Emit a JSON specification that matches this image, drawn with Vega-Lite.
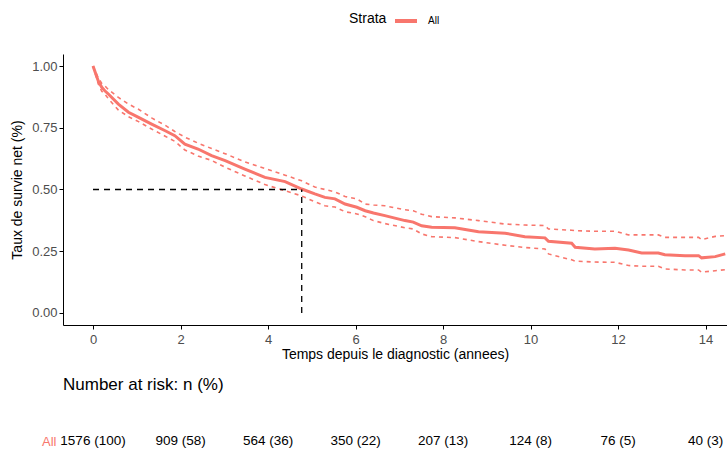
{
  "$schema": "https://vega.github.io/schema/vega-lite/v6.json",
  "background": "white",
  "padding": {"left": 10, "top": 8, "right": 0, "bottom": 0},
  "config": {
    "view": {"stroke": null},
    "font": "Liberation Sans",
    "axis": {"grid": false, "domainColor": "black", "tickColor": "black", "labelColor": "#4D4D4D", "labelFontSize": 13, "titleFontSize": 14, "titleFontWeight": "normal", "titleColor": "black", "tickSize": 4, "labelFont": "Liberation Sans", "titleFont": "Liberation Sans"},
    "legend": {"labelFont": "Liberation Sans", "titleFont": "Liberation Sans"},
    "title": {"font": "Liberation Sans"}
  },
  "datasets": {
    "curve": [
      {"t": 0, "est": 1.0, "upper": 1.0, "lower": 1.0},
      {"t": 0.12, "est": 0.94, "upper": 0.952, "lower": 0.928},
      {"t": 0.2, "est": 0.914, "upper": 0.93, "lower": 0.898},
      {"t": 0.27, "est": 0.9, "upper": 0.92, "lower": 0.887},
      {"t": 0.35, "est": 0.887, "upper": 0.905, "lower": 0.868},
      {"t": 0.58, "est": 0.846, "upper": 0.873, "lower": 0.822},
      {"t": 0.81, "est": 0.813, "upper": 0.846, "lower": 0.795},
      {"t": 1.04, "est": 0.792, "upper": 0.825, "lower": 0.775},
      {"t": 1.34, "est": 0.765, "upper": 0.79, "lower": 0.745},
      {"t": 1.65, "est": 0.738, "upper": 0.76, "lower": 0.716},
      {"t": 1.87, "est": 0.718, "upper": 0.735, "lower": 0.695},
      {"t": 2.1, "est": 0.684, "upper": 0.712, "lower": 0.66},
      {"t": 2.4, "est": 0.664, "upper": 0.688, "lower": 0.636},
      {"t": 2.71, "est": 0.637, "upper": 0.666, "lower": 0.618},
      {"t": 3.02, "est": 0.617, "upper": 0.645, "lower": 0.59},
      {"t": 3.47, "est": 0.583, "upper": 0.612, "lower": 0.555},
      {"t": 3.93, "est": 0.549, "upper": 0.585, "lower": 0.52},
      {"t": 4.39, "est": 0.532, "upper": 0.558, "lower": 0.495},
      {"t": 4.77, "est": 0.502, "upper": 0.535, "lower": 0.474},
      {"t": 5.07, "est": 0.482, "upper": 0.51, "lower": 0.45},
      {"t": 5.3, "est": 0.468, "upper": 0.5, "lower": 0.434},
      {"t": 5.53, "est": 0.462, "upper": 0.49, "lower": 0.429},
      {"t": 5.76, "est": 0.441, "upper": 0.472, "lower": 0.41},
      {"t": 6.03, "est": 0.428, "upper": 0.462, "lower": 0.401},
      {"t": 6.22, "est": 0.414, "upper": 0.441, "lower": 0.39},
      {"t": 6.41, "est": 0.405, "upper": 0.437, "lower": 0.374},
      {"t": 6.67, "est": 0.394, "upper": 0.434, "lower": 0.362},
      {"t": 7.13, "est": 0.374, "upper": 0.418, "lower": 0.345},
      {"t": 7.32, "est": 0.368, "upper": 0.414, "lower": 0.34},
      {"t": 7.51, "est": 0.353, "upper": 0.4, "lower": 0.32},
      {"t": 7.74, "est": 0.347, "upper": 0.39, "lower": 0.309},
      {"t": 8.27, "est": 0.345, "upper": 0.385, "lower": 0.305},
      {"t": 8.81, "est": 0.329, "upper": 0.374, "lower": 0.289},
      {"t": 9.42, "est": 0.323, "upper": 0.36, "lower": 0.274},
      {"t": 9.87, "est": 0.309, "upper": 0.356, "lower": 0.265},
      {"t": 10.33, "est": 0.304, "upper": 0.354, "lower": 0.259},
      {"t": 10.41, "est": 0.29, "upper": 0.34, "lower": 0.239},
      {"t": 10.94, "est": 0.282, "upper": 0.335, "lower": 0.215},
      {"t": 11.02, "est": 0.266, "upper": 0.333, "lower": 0.21},
      {"t": 11.47, "est": 0.259, "upper": 0.331, "lower": 0.206},
      {"t": 11.93, "est": 0.262, "upper": 0.331, "lower": 0.205},
      {"t": 12.24, "est": 0.255, "upper": 0.316, "lower": 0.192},
      {"t": 12.54, "est": 0.243, "upper": 0.316, "lower": 0.189},
      {"t": 12.92, "est": 0.243, "upper": 0.316, "lower": 0.189},
      {"t": 13.07, "est": 0.236, "upper": 0.306, "lower": 0.178},
      {"t": 13.53, "est": 0.232, "upper": 0.306, "lower": 0.174},
      {"t": 13.84, "est": 0.232, "upper": 0.306, "lower": 0.174},
      {"t": 13.91, "est": 0.223, "upper": 0.297, "lower": 0.165},
      {"t": 14.22, "est": 0.228, "upper": 0.31, "lower": 0.171},
      {"t": 14.45, "est": 0.239, "upper": 0.313, "lower": 0.175}
    ],
    "median": [
      {"x": 0, "x2": 4.77, "y": 0.5, "y2": 0.5},
      {"x": 4.77, "x2": 4.77, "y": 0, "y2": 0.5}
    ],
    "risk": [
      {"t": 0, "strata": "All", "label": "1576 (100)"},
      {"t": 2, "strata": "All", "label": "909 (58)"},
      {"t": 4, "strata": "All", "label": "564 (36)"},
      {"t": 6, "strata": "All", "label": "350 (22)"},
      {"t": 8, "strata": "All", "label": "207 (13)"},
      {"t": 10, "strata": "All", "label": "124 (8)"},
      {"t": 12, "strata": "All", "label": "76 (5)"},
      {"t": 14, "strata": "All", "label": "40 (3)"}
    ]
  },
  "spacing": 15,
  "vconcat": [
    {
      "width": 664,
      "height": 271,
      "layer": [
        {
          "data": {"name": "curve"},
          "transform": [
            {"fold": ["upper", "lower"], "as": ["bound", "value"]},
            {"calculate": "'All'", "as": "strata"}
          ],
          "mark": {"type": "line", "strokeWidth": 1.6, "strokeDash": [4, 4], "clip": true},
          "encoding": {
            "x": {"field": "t", "type": "quantitative"},
            "y": {"field": "value", "type": "quantitative"},
            "detail": {"field": "bound"},
            "color": {"field": "strata", "type": "nominal", "scale": {"range": ["#F8766D"]}}
          }
        },
        {
          "data": {"name": "curve"},
          "transform": [{"calculate": "'All'", "as": "strata"}],
          "mark": {"type": "line", "strokeWidth": 3, "clip": true},
          "encoding": {
            "x": {"field": "t", "type": "quantitative", "scale": {"domain": [-0.686, 14.49], "nice": false, "zero": false}, "axis": {"values": [0, 2, 4, 6, 8, 10, 12, 14], "title": "Temps depuis le diagnostic (annees)", "labelPadding": 4, "titlePadding": 1}},
            "y": {"field": "est", "type": "quantitative", "scale": {"domain": [-0.049, 1.049], "nice": false}, "axis": {"values": [0, 0.25, 0.5, 0.75, 1], "format": ".2f", "title": "Taux de survie net (%)", "labelPadding": 2, "titlePadding": 7}},
            "color": {"field": "strata", "type": "nominal", "scale": {"range": ["#F8766D"]}, "legend": {"orient": "none", "legendX": 286, "legendY": -46, "direction": "horizontal", "title": "Strata", "titleOrient": "left", "titleFontSize": 14, "titleFontWeight": "normal", "titleColor": "black", "labelFontSize": 10, "labelColor": "black", "labelOffset": 9, "symbolType": "stroke", "symbolStrokeWidth": 4, "symbolSize": 484, "titlePadding": 6}}
          }
        },
        {
          "data": {"name": "median"},
          "mark": {"type": "rule", "color": "black", "strokeWidth": 1.3, "strokeDash": [6, 5]},
          "encoding": {
            "x": {"field": "x", "type": "quantitative"},
            "x2": {"field": "x2"},
            "y": {"field": "y", "type": "quantitative"},
            "y2": {"field": "y2"}
          }
        }
      ]
    },
    {
      "width": 664,
      "height": 30,
      "title": {"text": "Number at risk: n (%)", "anchor": "start", "frame": "group", "fontSize": 17, "fontWeight": "normal", "color": "black", "offset": 32},
      "data": {"name": "risk"},
      "mark": {"type": "text", "fontSize": 13.5, "color": "black", "font": "Liberation Sans"},
      "encoding": {
        "x": {"field": "t", "type": "quantitative", "scale": {"domain": [-0.686, 14.49], "nice": false, "zero": false}, "axis": null},
        "y": {"field": "strata", "type": "nominal", "axis": {"title": null, "domain": false, "ticks": false, "labelColor": "#F8766D", "labelFontSize": 13, "labelPadding": 7}},
        "text": {"field": "label"}
      }
    }
  ]
}
